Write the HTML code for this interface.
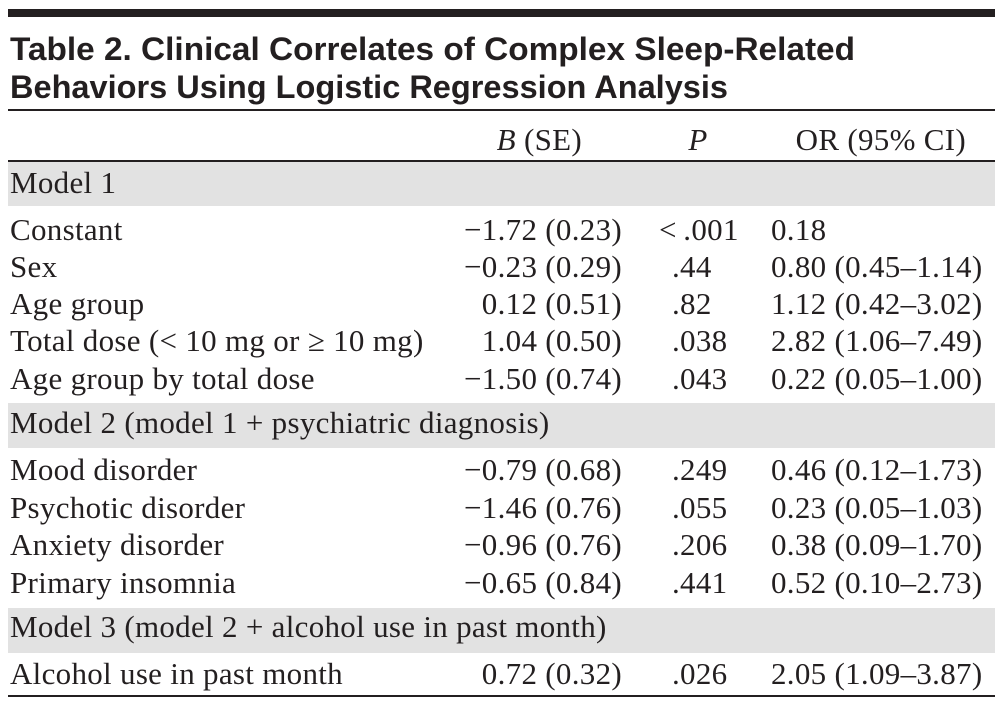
<!DOCTYPE html>
<html><head><meta charset="utf-8"><style>
html,body{margin:0;padding:0;background:#fff;}
svg{display:block}
.t{font-family:"Liberation Sans",sans-serif;font-weight:bold;font-size:32px;fill:#231f20}
.s{font-family:"Liberation Serif",serif;font-size:31px;letter-spacing:0.3px;fill:#231f20}
</style></head><body>
<svg width="1004" height="709">
<rect x="8" y="9" width="987" height="8" fill="#231f20"/>
<text class="t" x="10" y="60" textLength="845" lengthAdjust="spacingAndGlyphs">Table 2. Clinical Correlates of Complex Sleep-Related</text>
<text class="t" x="10" y="98" textLength="718" lengthAdjust="spacingAndGlyphs">Behaviors Using Logistic Regression Analysis</text>
<rect x="8" y="109" width="987" height="2" fill="#231f20"/>
<text class="s" x="582" y="150" text-anchor="end"><tspan font-style="italic">B</tspan> (SE)</text>
<text class="s" x="698" y="150" text-anchor="middle" font-style="italic">P</text>
<text class="s" x="966" y="150" text-anchor="end">OR (95% CI)</text>
<rect x="8" y="160" width="987" height="2" fill="#231f20"/>
<rect x="8" y="162" width="987" height="44" fill="#e2e2e2"/>
<rect x="8" y="403" width="987" height="45" fill="#e2e2e2"/>
<rect x="8" y="608" width="987" height="45" fill="#e2e2e2"/>
<rect x="8" y="695" width="987" height="2" fill="#231f20"/>
<g id="rows"></g>
</svg>
<script>
const labels=["Model 1","Constant","Sex","Age group","Total dose (< 10 mg or \u2265 10 mg)","Age group by total dose","Model 2 (model 1 + psychiatric diagnosis)","Mood disorder","Psychotic disorder","Anxiety disorder","Primary insomnia","Model 3 (model 2 + alcohol use in past month)","Alcohol use in past month"];
const bse=["","\u22121.72 (0.23)","\u22120.23 (0.29)","0.12 (0.51)","1.04 (0.50)","\u22121.50 (0.74)","","\u22120.79 (0.68)","\u22121.46 (0.76)","\u22120.96 (0.76)","\u22120.65 (0.84)","","0.72 (0.32)"];
const pv=["","< .001",".44",".82",".038",".043","",".249",".055",".206",".441","",".026"];
const orv=["","0.18","0.80 (0.45\u20131.14)","1.12 (0.42\u20133.02)","2.82 (1.06\u20137.49)","0.22 (0.05\u20131.00)","","0.46 (0.12\u20131.73)","0.23 (0.05\u20131.03)","0.38 (0.09\u20131.70)","0.52 (0.10\u20132.73)","","2.05 (1.09\u20133.87)"];
const ys=[193,240,277,314,351,389,433,480,518,555,593,637,684];
const g=document.getElementById('rows');
const NS='http://www.w3.org/2000/svg';
function t(x,y,s,anchor){const e=document.createElementNS(NS,'text');e.setAttribute('class','s');e.setAttribute('x',x);e.setAttribute('y',y);if(anchor)e.setAttribute('text-anchor',anchor);e.textContent=s;g.appendChild(e);return e;}
labels.forEach((l,i)=>{
 const a=t(10,ys[i],l);
 
 
 if(bse[i]){const b=t(622,ys[i],bse[i],'end');
 
 }
 if(pv[i]){const p=t(pv[i].startsWith('<')?659:672,ys[i],pv[i].replace('< ','<\u2009'));
 
 }
 if(orv[i]){const o=t(771,ys[i],orv[i]);
 
 }
});
</script>
</body></html>
